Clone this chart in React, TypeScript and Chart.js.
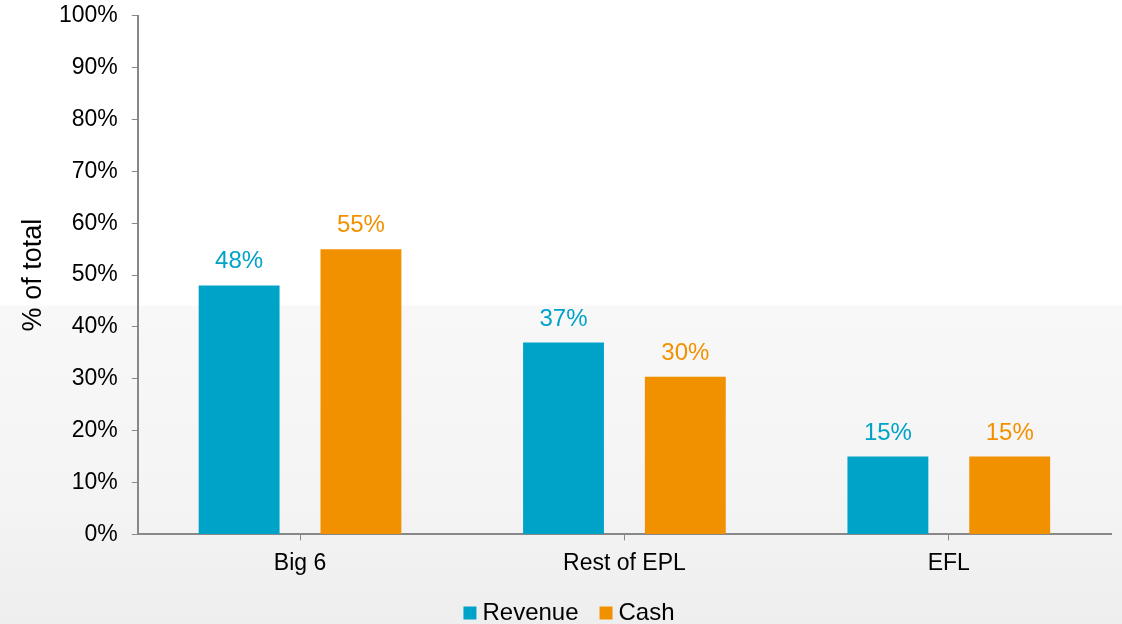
import React, { useEffect, useRef } from "react";
import { Chart, registerables } from "chart.js";

Chart.register(...registerables);

const categories = ["Big 6", "Rest of EPL", "EFL"];
const seriesNames = ["Revenue", "Cash"];
const revenue = [48, 37, 15];
const cash = [55, 30.4, 15];
const revenueLabels = ["48%", "37%", "15%"];
const cashLabels = ["55%", "30%", "15%"];
const yTicks = [0, 10, 20, 30, 40, 50, 60, 70, 80, 90, 100];

const FONT = "Arial, 'Liberation Sans', sans-serif";

const valueLabels = {
  id: "valueLabels",
  afterDatasetsDraw(chart: any) {
    const ctx = chart.ctx;
    const labelSets = [revenueLabels, cashLabels];
    chart.data.datasets.forEach((ds: any, i: number) => {
      const meta = chart.getDatasetMeta(i);
      meta.data.forEach((bar: any, j: number) => {
        ctx.save();
        ctx.font = `24px ${FONT}`;
        ctx.fillStyle = ds.backgroundColor;
        ctx.textAlign = "center";
        ctx.textBaseline = "alphabetic";
        ctx.fillText(labelSets[i][j], bar.x, bar.y - 17);
        ctx.restore();
      });
    });
  },
};

const bottomLegend = {
  id: "bottomLegend",
  afterDraw(chart: any) {
    const ctx = chart.ctx;
    ctx.save();
    ctx.font = `24px ${FONT}`;
    const box = 13;
    const textGap = 6;
    const itemGap = 21;
    const items = chart.data.datasets.map((ds: any) => ({
      text: ds.label,
      color: ds.backgroundColor,
      w: box + textGap + ctx.measureText(ds.label).width,
    }));
    const total =
      items.reduce((s: number, it: any) => s + it.w, 0) + itemGap * (items.length - 1);
    let x = chart.width / 2 + 8 - total / 2;
    const cy = chart.height - 12;
    items.forEach((it: any) => {
      ctx.fillStyle = it.color;
      ctx.fillRect(x, cy - box / 2 + 1, box, box);
      ctx.fillStyle = "#000";
      ctx.textAlign = "left";
      ctx.textBaseline = "middle";
      ctx.fillText(it.text, x + box + textGap, cy + 1);
      x += it.w + itemGap;
    });
    ctx.restore();
  },
};

export default function App() {
  const ref = useRef<HTMLCanvasElement | null>(null);
  useEffect(() => {
    if (!ref.current) return;
    const chart = new Chart(ref.current, {
      type: "bar",
      data: {
        labels: categories,
        datasets: [
          {
            label: seriesNames[0],
            data: revenue,
            backgroundColor: "#00A3C8",
            barPercentage: 0.664,
            categoryPercentage: 0.751,
          },
          {
            label: seriesNames[1],
            data: cash,
            backgroundColor: "#F29100",
            barPercentage: 0.664,
            categoryPercentage: 0.751,
          },
        ],
      },
      options: {
        animation: false,
        responsive: false,
        maintainAspectRatio: false,
        layout: { padding: { left: 20, right: 11, top: 0, bottom: 38 } },
        plugins: {
          legend: { display: false },
          tooltip: { enabled: false },
        },
        scales: {
          x: {
            grid: {
              display: true,
              drawOnChartArea: false,
              drawTicks: true,
              tickLength: 6,
              offset: false,
              color: "#888",
            },
            border: { color: "#888", width: 2 },
            ticks: {
              color: "#000",
              font: { size: 23, family: FONT },
              padding: 9,
            },
          },
          y: {
            min: 0,
            max: 100,
            afterBuildTicks: (axis: any) => {
              axis.ticks = yTicks.map((v) => ({ value: v }));
            },
            grid: {
              display: true,
              drawOnChartArea: false,
              drawTicks: true,
              tickLength: 6,
              color: "#888",
            },
            border: { color: "#888", width: 2 },
            ticks: {
              color: "#000",
              font: { size: 23, family: FONT },
              padding: 14,
              callback: (v: any) => `${v}%`,
            },
            title: {
              display: true,
              text: "% of total",
              color: "#000",
              font: { size: 27, family: FONT, lineHeight: 1 },
              padding: { top: 0, bottom: -2 },
            },
          },
        },
      },
      plugins: [valueLabels, bottomLegend],
    });
    return () => chart.destroy();
  }, []);

  return (
    <div
      style={{
        position: "absolute",
        left: 0,
        top: 0,
        width: 1122,
        height: 624,
        overflow: "hidden",
        background:
          "linear-gradient(to bottom, #ffffff 0px, #ffffff 305px, #f8f8f8 306px, #f4f4f4 500px, #eeeeee 624px)",
      }}
    >
      <canvas
        ref={ref}
        width={1122}
        height={636}
        style={{ display: "block", position: "absolute", left: 0, top: -12 }}
      />
    </div>
  );
}
